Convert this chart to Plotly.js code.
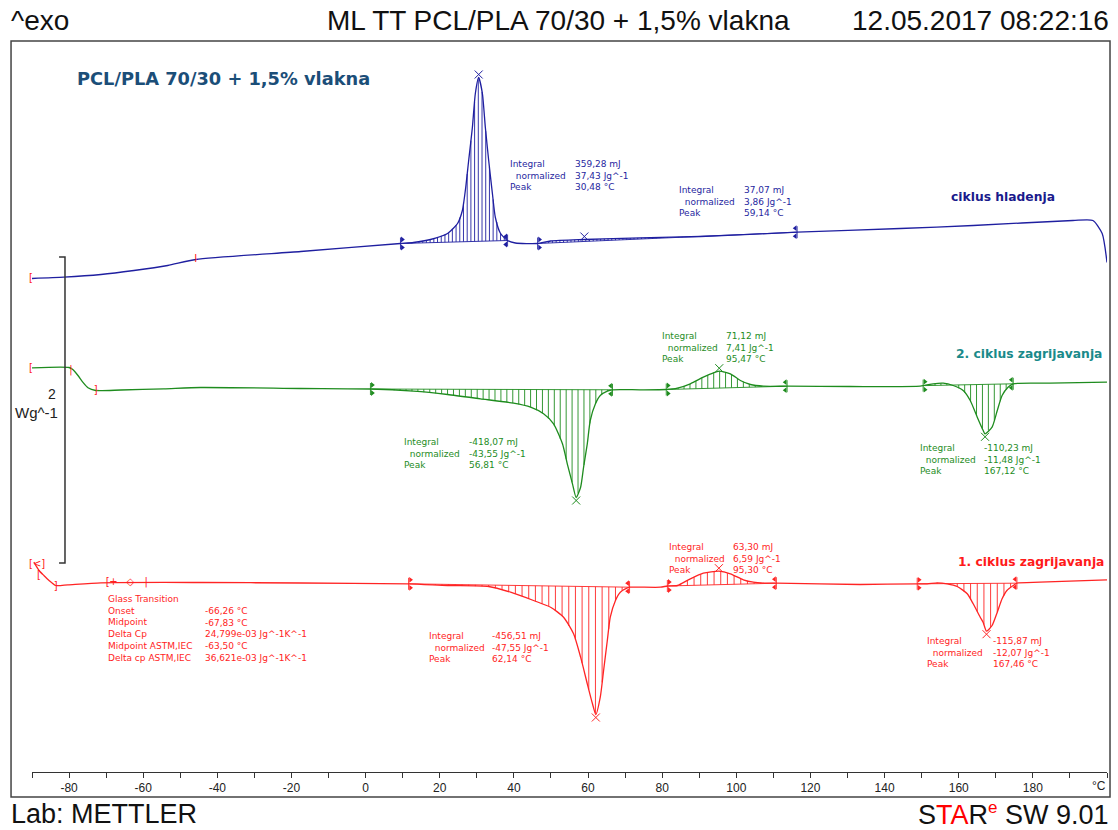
<!DOCTYPE html>
<html><head><meta charset="utf-8">
<script src="https://cdn.plot.ly/plotly-3.0.1.min.js"></script>
<style>html,body{margin:0;padding:0;background:#fff}#chart{width:1118px;height:830px}</style>
</head><body><div id="chart"></div>
<script>
// ---- DATA (temperature in °C, heat-flow signal in display units; 306 units = 2 W/g, exo up) ----
const coolT  = [-90,-81.4,-71.4,-62.5,-53.4,-45.8,-17.5,9.4,12.9,17.5,22.1,24.8,26.1,27.0,27.8,28.8,29.6,30.5,31.5,32.3,33.2,34.2,35.0,36.4,38.3,40.4,46.4,49.9,59.0,74.1,90.3,116.4,144.2,163.9,190.8,196.2,198.7,200];
const coolHF = [493.5,494.8,497.5,501.5,506.5,512.5,520.5,528.5,529.5,532.5,538.5,548.5,561.5,584.5,611.5,644.5,678.5,694.5,678.5,644.5,611.5,578.5,554.5,538.5,531.5,529,528.5,531,532.5,534.2,535.5,539.8,543.5,546.5,551.5,551.5,538.5,509.5];

const heat2T  = [-90,-80,-79,-77.6,-76.3,-74.9,-72.8,-66,-54.4,-44.5,-17.5,1.3,12.9,22.1,31.0,39.9,44.5,48.0,50.7,53.1,54.4,55.8,56.8,58.0,58.8,59.8,60.6,62.0,63.3,65.2,66.6,74.1,81.1,84.1,87.6,91.1,93.8,95.4,98.4,101.1,103.8,107.3,113.7,130.7,149.6,153.1,155.8,158.5,161.2,163.1,165.0,166.6,167.1,169.0,170.4,171.7,173.3,174.7,184.6,200];
const heat2HF = [404.2,404.5,402.5,396.5,389.8,384.2,381.5,382,383.2,384.5,383.5,383,380.8,377.5,373.2,368.8,364.8,358.2,348.2,328.2,308.2,288.2,274.5,284.8,304.8,328.2,351.5,368.2,376.5,380.8,382.2,382.2,382.5,383.8,388.2,394.8,399.2,400.8,398.2,391.5,387.5,385.8,385.8,385.5,385.8,388.2,388.8,386.5,381.5,371.5,354.8,341.5,338.2,344.8,361.5,376.5,384.8,388.2,388.8,389.8];

const heat1T  = [-89.5,-88.1,-86.8,-85.4,-83.6,-80.3,-71.4,-44.5,-17.5,11.6,22.1,33.2,39.1,45.3,49.9,53.4,56.1,58.0,59.8,61.2,62.1,63.3,64.2,65.2,66.0,67.4,68.7,70.6,71.2,79.5,81.4,84.1,87.6,91.1,95.3,98.4,101.9,104.6,108.4,110.8,133.4,148.8,151.5,154.2,156.9,159.6,162.3,163.9,165.8,166.6,167.5,169.0,170.4,171.7,173.0,174.7,175.7,181.9,200];
const heat1HF = [209.8,201.5,196.5,191.5,186.5,187.2,189.2,189.5,189,188.2,186.5,185.5,179.8,171.5,164.8,154.8,138.2,114.8,88.2,68.2,57.5,74.8,101.5,131.5,154.8,171.5,179.8,184.2,184.8,184.8,186,186.5,193.2,198.8,200.8,198.2,192.2,189.8,188.8,188.8,187.5,188.2,188.2,189.2,188.2,185.5,178.2,168.2,154.8,149.5,140.8,146.5,159.8,173.2,181.5,186.5,188.8,189.8,192.2];

// integration limits [start, end] in °C
const coolPeaks  = [[9.4,38.3],[46.4,116.4]];
const heat2Peaks = [[1.3,66.6],[81.1,113.7],[150.4,174.7]];
const heat1Peaks = [[11.6,71.2],[81.4,110.8],[148.8,175.7]];

const xTickVals = [-80,-60,-40,-20,0,20,40,60,80,100,120,140,160,180];
const xTickText = ['-80','-60','-40','-20','0','20','40','60','80','100','120','140','160','180'];
const xUnit = '°C';

const resLabels = ['Integral','\u00a0\u00a0normalized','Peak'];
const coolRes1 = ['359,28 mJ','37,43 Jg^-1','30,48 °C'];
const coolRes2 = ['37,07 mJ','3,86 Jg^-1','59,14 °C'];
const heat2Res1 = ['-418,07 mJ','-43,55 Jg^-1','56,81 °C'];
const heat2Res2 = ['71,12 mJ','7,41 Jg^-1','95,47 °C'];
const heat2Res3 = ['-110,23 mJ','-11,48 Jg^-1','167,12 °C'];
const heat1Res1 = ['-456,51 mJ','-47,55 Jg^-1','62,14 °C'];
const heat1Res2 = ['63,30 mJ','6,59 Jg^-1','95,30 °C'];
const heat1Res3 = ['-115,87 mJ','-12,07 Jg^-1','167,46 °C'];
const glassLabels = ['Glass Transition','Onset','Midpoint','Delta Cp','Midpoint ASTM,IEC','Delta cp ASTM,IEC'];
const glassValues = ['-66,26 °C','-67,83 °C','24,799e-03 Jg^-1K^-1','-63,50 °C','36,621e-03 Jg^-1K^-1'];

// ---- helpers ----
const BLUE='#1f1fa0', GREEN='#1e8c1e', RED='#ff2424';
function interp(xs, ys, t){
  if (t<=xs[0]) return ys[0];
  for (let i=1;i<xs.length;i++){ if (t<=xs[i]){ const f=(t-xs[i-1])/(xs[i]-xs[i-1]); return ys[i-1]+f*(ys[i]-ys[i-1]); } }
  return ys[ys.length-1];
}
const traces=[];
function curve(xs, ys, color){
  traces.push({x:xs, y:ys, mode:'lines', line:{color, width:1.3, shape:'spline', smoothing:0.6}, hoverinfo:'skip'});
}
function peaks(xs, ys, regions, step, color){
  regions.forEach(([a,b])=>{
    const ya=interp(xs,ys,a), yb=interp(xs,ys,b);
    const base=t=>ya+(yb-ya)*(t-a)/(b-a);
    const hx=[], hy=[];
    for (let t=a+step; t<b-0.3; t+=step){ hx.push(t,t,null); hy.push(base(t), interp(xs,ys,t), null); }
    hx.push(a,b,null); hy.push(ya,yb,null);
    hx.push(a,a,null,b,b,null); hy.push(ya-6,ya+6,null,yb-6,yb+6,null);
    traces.push({x:hx, y:hy, mode:'lines', line:{color, width:0.9}, hoverinfo:'skip'});
    traces.push({x:[a+0.5,a+0.5,b-0.5,b-0.5], y:[ya+4,ya-4,yb+4,yb-4], mode:'markers', hoverinfo:'skip',
      marker:{symbol:['triangle-right','triangle-right','triangle-left','triangle-left'], size:5, color}});
    let best=0, bi=-1;
    xs.forEach((t,i)=>{ if (t>a && t<b){ const d=ys[i]-base(t); if (Math.abs(d)>Math.abs(best)){best=d; bi=i;} } });
    if (bi>=0) traces.push({x:[xs[bi]], y:[ys[bi]+(best>0?3:-3)], mode:'markers', hoverinfo:'skip',
      marker:{symbol:'x-thin-open', size:8, color, line:{color, width:1}}});
  });
}
curve(coolT, coolHF, BLUE);   peaks(coolT, coolHF, coolPeaks, 1.0, BLUE);
curve(heat2T, heat2HF, GREEN); peaks(heat2T, heat2HF, heat2Peaks, 1.6, GREEN);
curve(heat1T, heat1HF, RED);   peaks(heat1T, heat1HF, heat1Peaks, 1.8, RED);

// evaluation limit marks of the software (red brackets)
traces.push({x:[-45.8,-79.5,-72.8,-88.1,-83.6,-69.6,-68.0,-63.5,-59.2],
  y:[512.5,402,381.5,197,186,190,189.5,189.5,190],
  text:['I','|',']','[',']','[','+','◇','|'],
  mode:'text', textfont:{family:'DejaVu Sans', size:10, color:'#ff2020'}, hoverinfo:'skip', cliponaxis:false});

// ---- annotations ----
const ann=[];
const small={family:'DejaVu Sans', size:9};
function block(tL, tV, hTop, labels, values, color){
  ann.push({x:tL, y:hTop, xref:'x', yref:'y', xanchor:'left', yanchor:'top', showarrow:false, borderpad:0, align:'left',
    text:labels.join('<br>'), font:Object.assign({color}, small)});
  ann.push({x:tV, y:hTop, xref:'x', yref:'y', xanchor:'left', yanchor:'top', showarrow:false, borderpad:0, align:'left',
    text:values.join('<br>'), font:Object.assign({color}, small)});
}
block(38.8, 56.3, 614, resLabels, coolRes1, BLUE);
block(84.4, 101.9, 588, resLabels, coolRes2, BLUE);
block(10.0, 27.5, 336, resLabels, heat2Res1, GREEN);
block(79.8, 97.0, 442, resLabels, heat2Res2, GREEN);
block(149.3, 166.6, 330, resLabels, heat2Res3, GREEN);
block(16.7, 33.7, 142.5, resLabels, heat1Res1, RED);
block(81.7, 98.9, 231, resLabels, heat1Res2, RED);
block(151.2, 169.0, 137, resLabels, heat1Res3, RED);
ann.push({x:-69.8, y:179, xref:'x', yref:'y', xanchor:'left', yanchor:'top', showarrow:false, borderpad:0, align:'left',
  text:glassLabels.join('<br>'), font:Object.assign({color:RED}, small)});
ann.push({x:-43.7, y:167.3, xref:'x', yref:'y', xanchor:'left', yanchor:'top', showarrow:false, borderpad:0, align:'left',
  text:glassValues.join('<br>'), font:Object.assign({color:RED}, small)});

// left-edge start marks
const edgeMark=(py,t)=>ann.push({x:-0.0037, y:py, xref:'paper', yref:'paper', xanchor:'left', yanchor:'middle', showarrow:false, borderpad:0,
  text:t, font:{family:'DejaVu Sans', size:10, color:'#ff2020'}});
edgeMark(0.6758,'['); edgeMark(0.5534,'['); edgeMark(0.2859,'[<]');

ann.push({x:-78.2, y:694, xref:'x', yref:'y', xanchor:'left', yanchor:'middle', showarrow:false, borderpad:0,
  text:'<b>PCL/PLA 70/30 + 1,5% vlakna</b>', font:{family:'DejaVu Sans', size:17.8, color:'#1b4e78'}});
ann.push({x:157.7, y:575, xref:'x', yref:'y', xanchor:'left', yanchor:'middle', showarrow:false, borderpad:0,
  text:'<b>ciklus hladenja</b>', font:{family:'DejaVu Sans', size:12.3, color:'#1a1a8c'}});
ann.push({x:198.9, y:418, xref:'x', yref:'y', xanchor:'right', yanchor:'middle', showarrow:false, borderpad:0,
  text:'<b>2. ciklus zagrijavanja</b>', font:{family:'DejaVu Sans', size:12.3, color:'#1a8a8a'}});
ann.push({x:199.5, y:210, xref:'x', yref:'y', xanchor:'right', yanchor:'middle', showarrow:false, borderpad:0,
  text:'<b>1. ciklus zagrijavanja</b>', font:{family:'DejaVu Sans', size:12.3, color:'#ff1a1a'}});

// x unit label at axis end
ann.push({x:1.0, y:-0.0195, xref:'paper', yref:'paper', xanchor:'right', yanchor:'middle', showarrow:false, borderpad:0,
  text:xUnit, font:{family:'Liberation Sans', size:12, color:'#222'}});

// scale bar labels
ann.push({x:-84.6, y:378, xref:'x', yref:'y', xanchor:'center', yanchor:'middle', showarrow:false, borderpad:0,
  text:'2', font:{family:'Liberation Sans', size:14, color:'#222'}});
ann.push({x:-88.8, y:360, xref:'x', yref:'y', xanchor:'center', yanchor:'middle', showarrow:false, borderpad:0,
  text:'Wg^-1', font:{family:'Liberation Sans', size:15, color:'#222'}});

// header / footer
const big={family:'Liberation Sans', size:28, color:'#111'};
const foot={family:'Liberation Sans', size:27, color:'#111'};
ann.push({x:-0.0205, y:1.0287, xref:'paper', yref:'paper', xanchor:'left', yanchor:'middle', showarrow:false, borderpad:0, text:'^exo', font:big});
ann.push({x:0.4902, y:1.0287, xref:'paper', yref:'paper', xanchor:'center', yanchor:'middle', showarrow:false, borderpad:0, text:'ML TT PCL/PLA 70/30 + 1,5% vlakna', font:big});
ann.push({x:1.0028, y:1.0287, xref:'paper', yref:'paper', xanchor:'right', yanchor:'middle', showarrow:false, borderpad:0, text:'12.05.2017 08:22:16', font:big});
ann.push({x:-0.0205, y:-0.0575, xref:'paper', yref:'paper', xanchor:'left', yanchor:'middle', showarrow:false, borderpad:0, text:'Lab: METTLER', font:foot});
ann.push({x:1.0028, y:-0.0575, xref:'paper', yref:'paper', xanchor:'right', yanchor:'middle', showarrow:false, borderpad:0,
  text:'S<span style="color:#ff0000">TA</span>R<sup><span style="color:#ff0000;font-size:17px">e</span></sup> SW 9.01', font:foot});

const shapes=[
  {type:'rect', xref:'paper', yref:'paper', x0:-0.0195, x1:1.0028, y0:-0.0342, y1:1, line:{color:'#444', width:1.5}},
  {type:'path', xref:'x', yref:'y', path:'M -82.7 515 L -81.1 515 L -81.1 209 L -82.7 209', line:{color:'#333', width:1.5}}
];

const layout={
  width:1118, height:830, margin:{l:32, r:11, t:41, b:58}, showlegend:false,
  paper_bgcolor:'#fff', plot_bgcolor:'#fff',
  xaxis:{range:[-90,200], tickmode:'array', tickvals:xTickVals, ticktext:xTickText, ticks:'outside', ticklen:5, tickcolor:'#333',
    minor:{tick0:0, dtick:10, ticks:'outside', ticklen:5, tickcolor:'#333', showgrid:false},
    showline:true, linecolor:'#333', linewidth:1, showgrid:false, zeroline:false, fixedrange:true,
    tickfont:{family:'Liberation Sans', size:12, color:'#222'}},
  yaxis:{range:[0,731], visible:false, fixedrange:true},
  annotations:ann, shapes
};
Plotly.newPlot('chart', traces, layout, {displayModeBar:false, staticPlot:true});
</script></body></html>
